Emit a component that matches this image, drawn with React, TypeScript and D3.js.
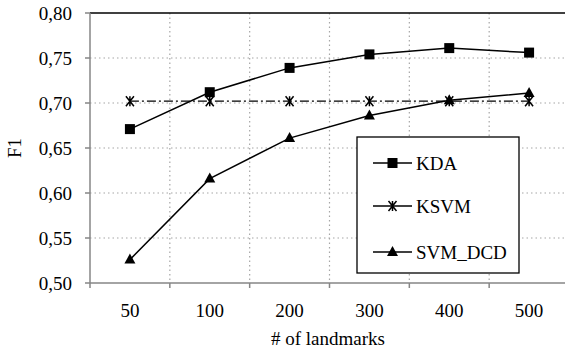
import * as React from 'react'
import { useEffect, useRef } from 'react'
import * as d3 from 'd3'

const categories = ['50', '100', '200', '300', '400', '500']
const kda = [0.671, 0.712, 0.739, 0.754, 0.761, 0.756]
const ksvm = [0.702, 0.702, 0.702, 0.702, 0.702, 0.702]
const svmDcd = [0.526, 0.616, 0.661, 0.686, 0.703, 0.711]
const yTicks = [0.5, 0.55, 0.6, 0.65, 0.7, 0.75, 0.8]

const width = 565
const height = 353
const margin = { top: 13, right: -4, bottom: 70, left: 90 }
const font = "'Liberation Serif', 'Times New Roman', Times, serif"

export default function App() {
  const svgRef = useRef<SVGSVGElement>(null)

  useEffect(() => {
    if (!svgRef.current) return
    const svg = d3.select(svgRef.current)
    svg.selectAll('*').remove()

    const innerWidth = width - margin.left - margin.right
    const innerHeight = height - margin.top - margin.bottom

    const x = d3.scaleBand().domain(categories).range([0, innerWidth])
    const y = d3.scaleLinear().domain([0.5, 0.8]).range([innerHeight, 0])
    const cx = (c: string) => x(c)! + x.bandwidth() / 2

    const g = svg.append('g').attr('transform', `translate(${margin.left},${margin.top})`)

    // grid
    yTicks.slice(1, -1).forEach(t => {
      g.append('line')
        .attr('x1', 0).attr('x2', innerWidth)
        .attr('y1', y(t)).attr('y2', y(t))
        .attr('stroke', '#a6a6a6').attr('stroke-width', 1.2)
        .attr('stroke-dasharray', '1.5,3')
    })
    categories.slice(1).forEach(c => {
      g.append('line')
        .attr('x1', x(c)!).attr('x2', x(c)!)
        .attr('y1', 0).attr('y2', innerHeight)
        .attr('stroke', '#a6a6a6').attr('stroke-width', 1.2)
        .attr('stroke-dasharray', '1.5,3')
    })

    // top border
    g.append('line')
      .attr('x1', 0).attr('x2', innerWidth)
      .attr('y1', 0).attr('y2', 0)
      .attr('stroke', '#000').attr('stroke-width', 1.3)

    // axes
    g.append('line')
      .attr('x1', 0).attr('x2', 0).attr('y1', 0).attr('y2', innerHeight)
      .attr('stroke', '#868686').attr('stroke-width', 1.5)
    g.append('line')
      .attr('x1', 0).attr('x2', innerWidth).attr('y1', innerHeight).attr('y2', innerHeight)
      .attr('stroke', '#868686').attr('stroke-width', 1.5)

    yTicks.forEach(t => {
      g.append('line')
        .attr('x1', -5).attr('x2', 0).attr('y1', y(t)).attr('y2', y(t))
        .attr('stroke', '#868686').attr('stroke-width', 1.5)
      g.append('text')
        .attr('x', -18).attr('y', y(t) + 6.5)
        .attr('text-anchor', 'end')
        .style('font-family', font).style('font-size', '19px')
        .text(d3.format('.2f')(t).replace('.', ','))
    })

    categories.forEach((c, i) => {
      g.append('line')
        .attr('x1', x(c)!).attr('x2', x(c)!)
        .attr('y1', innerHeight).attr('y2', innerHeight + 5)
        .attr('stroke', '#868686').attr('stroke-width', 1.5)
      if (i === categories.length - 1) {
        g.append('line')
          .attr('x1', x(c)! + x.bandwidth()).attr('x2', x(c)! + x.bandwidth())
          .attr('y1', innerHeight).attr('y2', innerHeight + 5)
          .attr('stroke', '#868686').attr('stroke-width', 1.5)
      }
      g.append('text')
        .attr('x', cx(c)).attr('y', innerHeight + 34)
        .attr('text-anchor', 'middle')
        .style('font-family', font).style('font-size', '19px')
        .text(c)
    })

    // axis titles
    svg.append('text')
      .attr('transform', `translate(21,${margin.top + innerHeight / 2}) rotate(-90)`)
      .attr('text-anchor', 'middle')
      .style('font-family', font).style('font-size', '19px')
      .text('F1')
    svg.append('text')
      .attr('x', 328).attr('y', 345)
      .attr('text-anchor', 'middle')
      .style('font-family', font).style('font-size', '19px')
      .text('# of landmarks')

    const line = d3.line<number>()
      .x((_, i) => cx(categories[i]))
      .y(d => y(d))

    const square = (sel: any, px: number, py: number) =>
      sel.append('rect').attr('x', px - 5).attr('y', py - 5).attr('width', 10).attr('height', 10).attr('fill', '#000')
    const tri = (sel: any, px: number, py: number) =>
      sel.append('path').attr('d', `M${px},${py - 6}L${px + 5.5},${py + 4}L${px - 5.5},${py + 4}Z`).attr('fill', '#000')
    const star = (sel: any, px: number, py: number) =>
      sel.append('path')
        .attr('d', `M${px - 4},${py - 5}L${px + 4},${py + 5}M${px + 4},${py - 5}L${px - 4},${py + 5}M${px},${py - 5}L${px},${py + 5}`)
        .attr('stroke', '#000').attr('stroke-width', 1.5).attr('fill', 'none')

    // KSVM
    g.append('path').datum(ksvm).attr('d', line)
      .attr('fill', 'none').attr('stroke', '#000').attr('stroke-width', 1.3)
      .attr('stroke-dasharray', '9,3,2,3')
    ksvm.forEach((v, i) => star(g, cx(categories[i]), y(v)))

    // KDA
    g.append('path').datum(kda).attr('d', line)
      .attr('fill', 'none').attr('stroke', '#000').attr('stroke-width', 1.5)
    kda.forEach((v, i) => square(g, cx(categories[i]), y(v)))

    // SVM_DCD
    g.append('path').datum(svmDcd).attr('d', line)
      .attr('fill', 'none').attr('stroke', '#000').attr('stroke-width', 1.5)
    svmDcd.forEach((v, i) => tri(g, cx(categories[i]), y(v)))

    // legend
    const lg = svg.append('g')
    lg.append('rect')
      .attr('x', 357).attr('y', 137).attr('width', 162).attr('height', 136)
      .attr('fill', '#fff').attr('stroke', '#000').attr('stroke-width', 1.3)
    const entries = [
      { name: 'KDA', mark: square, ly: 163 },
      { name: 'KSVM', mark: star, ly: 206 },
      { name: 'SVM_DCD', mark: tri, ly: 252 },
    ]
    entries.forEach(e => {
      lg.append('line')
        .attr('x1', 373).attr('x2', 412).attr('y1', e.ly).attr('y2', e.ly)
        .attr('stroke', '#000').attr('stroke-width', 1.5)
      e.mark(lg, 392.5, e.ly)
      lg.append('text')
        .attr('x', 416).attr('y', e.ly + 6.5)
        .style('font-family', font).style('font-size', '19px')
        .text(e.name)
    })
  }, [])

  return (
    <svg
      ref={svgRef}
      width={width}
      height={height}
      style={{ position: 'absolute', left: 0, top: 0, background: '#fff' }}
    />
  )
}
